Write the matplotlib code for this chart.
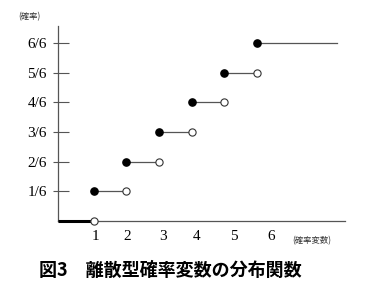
import matplotlib
matplotlib.use("Agg")
import matplotlib.pyplot as plt
import numpy as np

# ---- data ----
x_values = [1, 2, 3, 4, 5, 6]
cum_prob = [1/6, 2/6, 3/6, 4/6, 5/6, 6/6]
y_tick_values = [1/6, 2/6, 3/6, 4/6, 5/6, 6/6]
y_tick_labels = ["1/6", "2/6", "3/6", "4/6", "5/6", "6/6"]
x_tick_labels = ["1", "2", "3", "4", "5", "6"]
x_axis_label = "(確率変数)"
y_axis_label = "(確率)"
caption = "図3　離散型確率変数の分布関数"

# ---- layout (label drift as in original drawing) ----
x_label_shift = [0.05, 0.03, 0.11, 0.16, 0.29, 0.43]
x_end = 8.45

W, H = 382, 292
fig = plt.figure(figsize=(W / 100, H / 100), dpi=100)
ax = fig.add_axes([58 / W, 1 - 221 / H, (345 - 58) / W, (221 - 26) / H])
ax.set_xlim(-0.10, 8.70)
ax.set_ylim(0, 1.095)

line_col = "#555555"
for s in ["top", "right"]:
    ax.spines[s].set_visible(False)
for s in ["left", "bottom"]:
    ax.spines[s].set_color(line_col)
    ax.spines[s].set_linewidth(0.9)

# thick segment at level 0
ax.plot([ax.get_xlim()[0], x_values[0]], [0, 0], color="black", lw=2.2,
        solid_capstyle="butt", zorder=3, clip_on=False)

# horizontal segments
for i, (xv, yv) in enumerate(zip(x_values, cum_prob)):
    xr = x_values[i + 1] if i + 1 < len(x_values) else x_end
    ax.plot([xv, xr], [yv, yv], color=line_col, lw=0.9, zorder=2)

# open circles (left limits)
open_x = x_values
open_y = [0] + cum_prob[:-1]
ax.plot(open_x, open_y, "o", ms=5.2, mfc="white", mec="#333333", mew=0.8,
        zorder=4, clip_on=False)
# filled circles
ax.plot(x_values, cum_prob, "o", ms=5.2, mfc="black", mec="black", zorder=5)

serif = ["Liberation Serif", "DejaVu Serif"]
cjk = ["Noto Sans CJK JP", "DejaVu Sans"]

# y ticks: in + out
ax.set_yticks(y_tick_values)
ax.set_yticklabels(y_tick_labels, family=serif, fontsize=11)
ax.yaxis.remove_overlapping_locs = False
ax.set_yticks(y_tick_values, minor=True)
ax.tick_params(axis="y", which="major", direction="in", length=8, width=0.8,
               color=line_col, pad=8)
ax.tick_params(axis="y", which="minor", direction="out", length=3.6,
               width=0.8, color=line_col)

# x ticks: labels only
ax.set_xticks([xv + d for xv, d in zip(x_values, x_label_shift)])
ax.set_xticklabels(x_tick_labels, family=serif, fontsize=11)
ax.tick_params(axis="x", length=0, pad=6.5)

ax.text(312 / W, 1 - 241 / H, x_axis_label, transform=fig.transFigure,
        ha="center", va="center", fontsize=6, family=cjk, color="#333333")
ax.text(29 / W, 1 - 17 / H, y_axis_label, transform=fig.transFigure,
        ha="center", va="center", fontsize=6, family=cjk, color="#333333")

fig.text(170 / W, 1 - 270 / H, caption, ha="center", va="center",
         fontsize=13, fontweight="bold", family=cjk)

fig.savefig("out.png", dpi=100)
